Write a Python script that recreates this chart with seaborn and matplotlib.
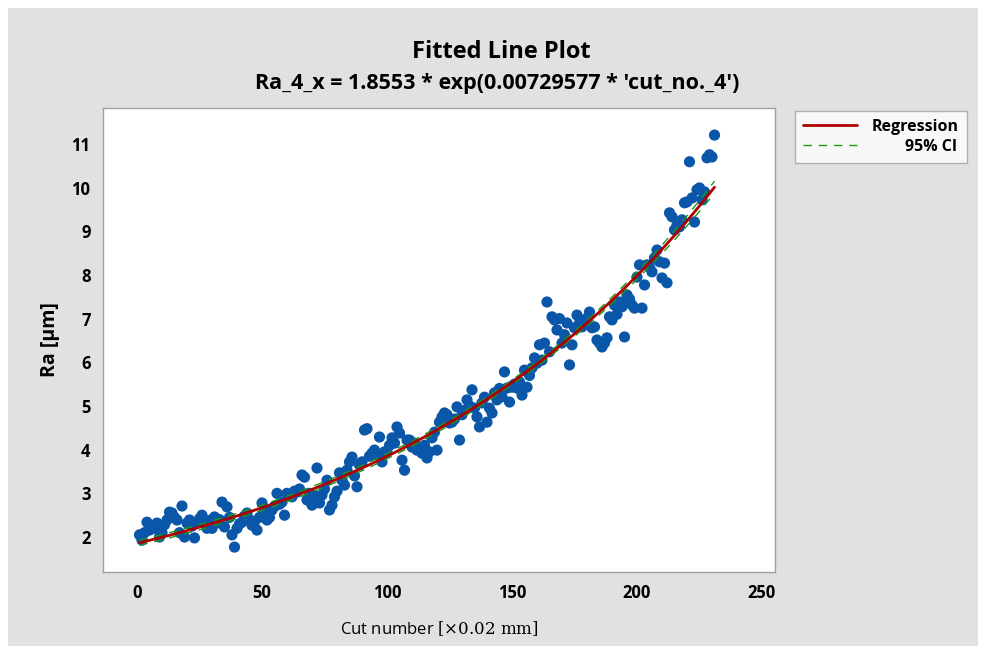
import numpy as np
import pandas as pd
import matplotlib
matplotlib.use("Agg")
import matplotlib.pyplot as plt
import seaborn as sns
from matplotlib.patches import Rectangle
from matplotlib.lines import Line2D

# fitted model shown in the title
coef_a = 1.8553
coef_b = 0.00729577

cut_no = list(range(1, 232))
ra_values = [
    2.05, 1.93, 2.10, 2.34, 2.16, 2.25, 2.20, 2.32, 2.00, 2.10,
    2.28, 2.39, 2.57, 2.55, 2.45, 2.39, 2.10, 2.71, 2.00, 2.32,
    2.39, 2.25, 1.98, 2.34, 2.42, 2.50, 2.32, 2.20, 2.38, 2.20,
    2.46, 2.32, 2.40, 2.80, 2.23, 2.69, 2.45, 2.05, 1.77, 2.20,
    2.30, 2.34, 2.48, 2.55, 2.40, 2.27, 2.35, 2.16, 2.45, 2.78,
    2.60, 2.39, 2.45, 2.62, 2.70, 3.00, 2.75, 2.80, 2.50, 3.00,
    2.95, 2.92, 3.05, 3.03, 3.10, 3.42, 3.37, 2.85, 3.00, 2.73,
    2.95, 3.58, 2.78, 2.96, 3.10, 3.30, 2.62, 2.73, 2.92, 3.05,
    3.47, 3.30, 3.19, 3.53, 3.72, 3.83, 3.40, 3.15, 3.65, 3.72,
    4.45, 4.48, 3.85, 3.92, 3.99, 3.88, 4.29, 3.72, 3.95, 3.95,
    4.10, 4.27, 4.15, 4.52, 4.38, 3.76, 3.53, 4.22, 4.22, 4.06,
    4.15, 3.99, 4.05, 3.92, 4.10, 3.81, 3.95, 4.27, 4.40, 3.99,
    4.63, 4.75, 4.84, 4.80, 4.61, 4.63, 4.70, 4.98, 4.22, 4.80,
    4.90, 5.14, 5.00, 5.37, 4.95, 4.75, 4.52, 5.07, 5.20, 4.63,
    4.95, 4.84, 5.30, 5.14, 5.40, 5.21, 5.78, 5.41, 5.09, 5.43,
    5.50, 5.41, 5.55, 5.25, 5.82, 5.43, 5.70, 5.87, 6.10, 5.98,
    6.40, 6.05, 6.44, 7.38, 6.24, 7.04, 6.97, 6.74, 7.00, 6.44,
    6.63, 6.90, 5.94, 6.40, 6.79, 7.08, 6.90, 6.81, 6.95, 7.01,
    7.15, 6.79, 6.81, 6.51, 6.44, 6.35, 6.44, 6.56, 7.04, 6.97,
    7.31, 7.10, 7.38, 7.27, 6.58, 7.54, 7.45, 7.31, 7.24, 7.95,
    8.23, 7.24, 7.77, 8.23, 8.18, 8.07, 8.39, 8.57, 8.30, 7.93,
    8.27, 7.82, 9.42, 9.33, 9.03, 9.14, 9.10, 9.26, 9.65, 9.67,
    10.59, 9.76, 9.21, 9.95, 9.99, 9.72, 9.90, 10.68, 10.75, 10.70, 11.20,
]

x_ticks = [0, 50, 100, 150, 200, 250]
y_ticks = [2, 3, 4, 5, 6, 7, 8, 9, 10, 11]

df = pd.DataFrame({"cut": cut_no, "ra": ra_values})

# fitted curve + 95% CI of the mean (nonlinear fit, delta method)
x = df["cut"].to_numpy(dtype=float)
y = df["ra"].to_numpy()
n = len(x)
ex = np.exp(coef_b * x)
fit = coef_a * ex
s2 = np.sum((y - fit) ** 2) / (n - 2)
J = np.column_stack([ex, coef_a * x * ex])
cov = s2 * np.linalg.inv(J.T @ J)
se = np.sqrt(np.einsum("ij,jk,ik->i", J, cov, J))
fit_df = pd.DataFrame({
    "cut": x,
    "fit": fit,
    "lo": fit - 1.97 * se,
    "hi": fit + 1.97 * se,
})

sns.set_style("white")
plt.rcParams["font.family"] = ["Open Sans", "DejaVu Sans"]
plt.rcParams["mathtext.fontset"] = "dejavuserif"
plt.rcParams["text.color"] = "black"
plt.rcParams["axes.labelcolor"] = "black"

fig = plt.figure(figsize=(9.86, 6.54), dpi=100)
fig.patch.set_facecolor("white")
fig.add_artist(Rectangle((8 / 986, 8 / 654), 970 / 986, 638 / 654,
                         transform=fig.transFigure, facecolor="#e1e1e1",
                         edgecolor="none", zorder=0))

ax = fig.add_axes([103 / 986, 1 - 572 / 654, 672 / 986, 464 / 654])
ax.set_facecolor("white")

blue = "#0a56a8"
red = "#b00000"
green = "#1a9a1a"

sns.scatterplot(data=df, x="cut", y="ra", ax=ax, color=blue, s=65,
                edgecolor="none", zorder=3, legend=False)
sns.lineplot(data=fit_df, x="cut", y="lo", ax=ax, color=green, lw=1.0,
             linestyle=(0, (6, 5)), zorder=4)
sns.lineplot(data=fit_df, x="cut", y="hi", ax=ax, color=green, lw=1.0,
             linestyle=(0, (6, 5)), zorder=4)
sns.lineplot(data=fit_df, x="cut", y="fit", ax=ax, color=red, lw=2.0, zorder=5)

ax.set_xlim(-13.6, 255.2)
ax.set_ylim(1.2, 11.82)
ax.set_xticks(x_ticks)
ax.set_yticks(y_ticks)
ax.tick_params(axis="both", direction="out", length=5, width=1, color="#909090",
               labelcolor="black", labelsize=12, pad=4)
for lbl in ax.get_xticklabels() + ax.get_yticklabels():
    lbl.set_fontweight("bold")
for sp in ax.spines.values():
    sp.set_color("#a0a0a0")
    sp.set_linewidth(1.0)

ax.set_xlabel(r"Cut number $[\times 0.02\ \mathrm{mm}]$", fontsize=12, labelpad=12)
ax.set_ylabel("Ra [μm]", fontsize=14, fontweight="bold", labelpad=8)

fig.text(0.508, 1 - 52 / 654, "Fitted Line Plot", ha="center", va="center",
         fontsize=17, fontweight="bold")
fig.text(0.504, 1 - 83 / 654, "Ra_4_x = 1.8553 * exp(0.00729577 * 'cut_no._4')",
         ha="center", va="center", fontsize=15.5, fontweight="bold")

handles = [Line2D([], [], color=red, lw=2.0),
           Line2D([], [], color=green, lw=1.0, linestyle=(0, (6, 5)))]
leg = fig.legend(handles, ["Regression", "        95% CI"], loc="upper left",
                 bbox_to_anchor=(795 / 986, 1 - 111 / 654), borderaxespad=0,
                 frameon=True, fancybox=False, fontsize=11.5, handlelength=3.4,
                 borderpad=0.5, labelspacing=0.25, handletextpad=0.9)
leg.get_frame().set_edgecolor("#a0a0a0")
leg.get_frame().set_linewidth(1.0)
leg.get_frame().set_facecolor("white")
for t in leg.get_texts():
    t.set_fontweight("bold")

fig.savefig("out.png", dpi=100, facecolor=fig.get_facecolor())
